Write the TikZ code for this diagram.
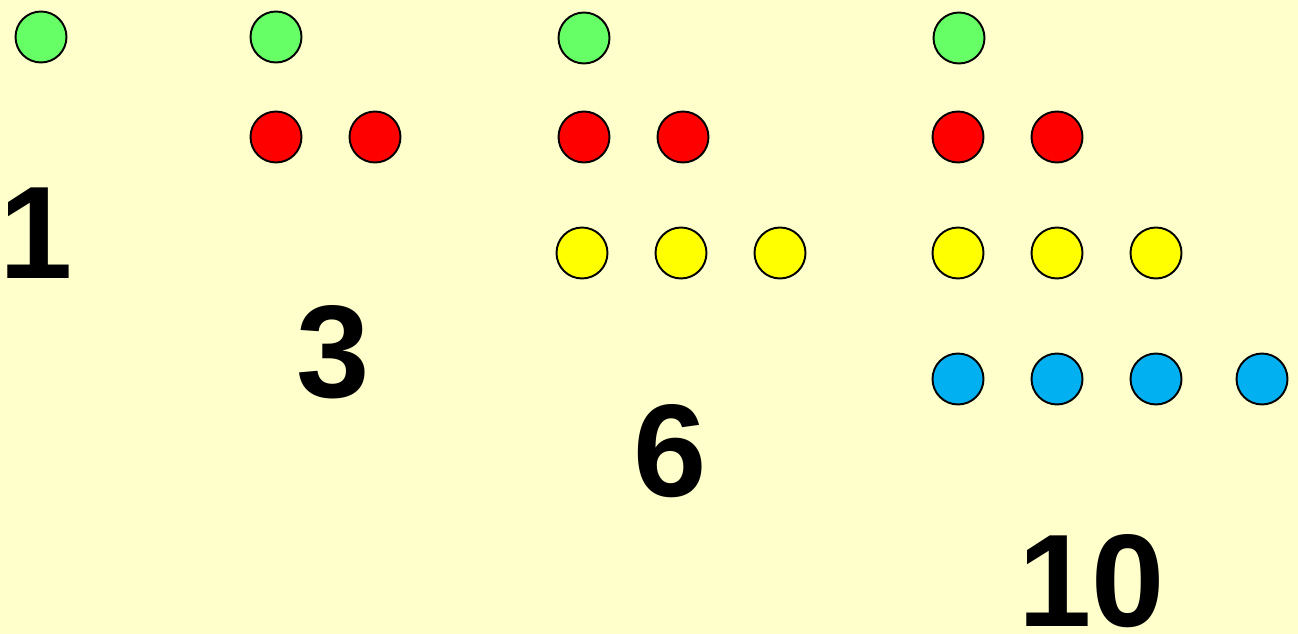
\documentclass[tikz,border=0pt]{standalone}
\usepackage{fontspec}
\setmainfont{Liberation Sans}
\usetikzlibrary{positioning}
\definecolor{bgyellow}{RGB}{255, 255, 204}
\definecolor{dotgreen}{RGB}{102, 255, 102}
\definecolor{dotred}{RGB}{255, 0, 0}
\definecolor{dotyellow}{RGB}{255, 255, 0}
\definecolor{dotblue}{RGB}{0, 176, 240}
\begin{document}
\begin{tikzpicture}[x=0.02cm, y=-0.02cm,
    dot/.style={circle, draw=black, line width=1.1pt, minimum size=1.02cm, inner sep=0pt},
    num/.style={inner sep=0pt, font=\fontsize{75}{75}\selectfont\bfseries}
]
\fill[bgyellow] (0,0) rectangle (1298,634);
\useasboundingbox (0,0) rectangle (1298,634);
% one
\node[dot, fill=dotgreen] (a1) at (41,37) {};
\node[num] (n1) at (36,233) {1};
% three
\node[dot, fill=dotgreen] (b1) at (276,37) {};
\foreach \i/\x in {1/276, 2/375}
  \node[dot, fill=dotred] (br\i) at (\x,137) {};
\node[num] (n3) at (333,352) {3};
% six
\node[dot, fill=dotgreen] (c1) at (584,38) {};
\foreach \i/\x in {1/584, 2/683}
  \node[dot, fill=dotred] (cr\i) at (\x,137) {};
\foreach \i/\x in {1/582, 2/681, 3/780}
  \node[dot, fill=dotyellow] (cy\i) at (\x,253) {};
\node[num] (n6) at (670,451) {6};
% ten
\node[dot, fill=dotgreen] (d1) at (959,38) {};
\foreach \i/\x in {1/958, 2/1057}
  \node[dot, fill=dotred] (dr\i) at (\x,137) {};
\foreach \i/\x in {1/958, 2/1057, 3/1156}
  \node[dot, fill=dotyellow] (dy\i) at (\x,253) {};
\foreach \i/\x in {1/958, 2/1057, 3/1156, 4/1262}
  \node[dot, fill=dotblue] (db\i) at (\x,379) {};
\node[num] (n10) at (1092,581) {10};
\end{tikzpicture}
\end{document}
